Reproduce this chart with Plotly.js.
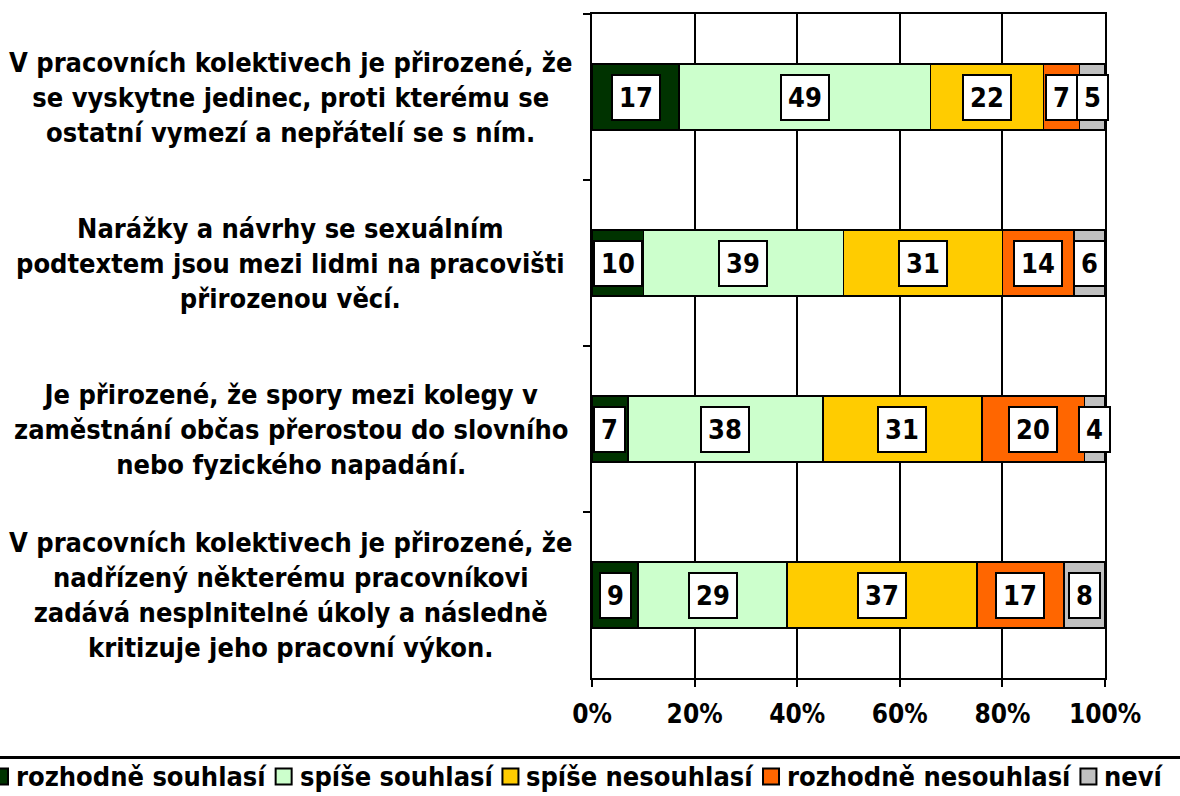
<!DOCTYPE html>
<html><head><meta charset="utf-8">
<script src="https://cdn.plot.ly/plotly-3.0.1.min.js"></script>
<style>html,body{margin:0;padding:0;background:#fff}</style>
</head><body><div id="chart" style="width:1180px;height:796px"></div>
<script>
const categories = [
  'V pracovních kolektivech je přirozené, že<br>se vyskytne jedinec, proti kterému se<br>ostatní vymezí a nepřátelí se s ním.',
  'Narážky a návrhy se sexuálním<br>podtextem jsou mezi lidmi na pracovišti<br>přirozenou věcí.',
  'Je přirozené, že spory mezi kolegy v<br>zaměstnání občas přerostou do slovního<br>nebo fyzického napadání.',
  'V pracovních kolektivech je přirozené, že<br>nadřízený některému pracovníkovi<br>zadává nesplnitelné úkoly a následně<br>kritizuje jeho pracovní výkon.'
];
const seriesNames = ['rozhodně souhlasí', 'spíše souhlasí', 'spíše nesouhlasí', 'rozhodně nesouhlasí', 'neví'];
const rozhodneSouhlasi = [17, 10, 7, 9];
const spiseSouhlasi = [49, 39, 38, 29];
const spiseNesouhlasi = [22, 31, 31, 37];
const rozhodneNesouhlasi = [7, 14, 20, 17];
const nevi = [5, 6, 4, 8];
const colors = ['#003300', '#CCFFCC', '#FFCC00', '#FF6600', '#C0C0C0'];

const FONT = "DejaVu Sans Condensed, DejaVu Sans, sans-serif";
const series = [rozhodneSouhlasi, spiseSouhlasi, spiseNesouhlasi, rozhodneNesouhlasi, nevi];

// figure geometry (px)
const W = 1180, H = 796;
const M = {l: 592, r: 75, t: 14, b: 118};
const PW = W - M.l - M.r, PH = H - M.t - M.b;
const px2paperX = px => (px - M.l) / PW;
const px2paperY = py => (H - M.b - py) / PH;

const traces = series.map((vals, i) => ({
  type: 'bar', orientation: 'h', name: seriesNames[i],
  x: vals, y: categories,
  marker: {color: colors[i], line: {color: '#000', width: 1.5}},
  hoverinfo: 'x+name', showlegend: false
}));

const annotations = [];
categories.forEach((cat, ci) => {
  let cum = 0;
  series.forEach(vals => {
    const v = vals[ci];
    annotations.push({
      x: cum + v / 2, y: cat, xref: 'x', yref: 'y', text: String(v), showarrow: false,
      font: {family: FONT, size: 27, weight: 'bold', color: '#000'},
      bgcolor: '#fff', bordercolor: '#000', borderwidth: 2, borderpad: 6
    });
    cum += v;
  });
  annotations.push({
    x: -0.587, xref: 'paper', y: cat, yref: 'y', text: cat, showarrow: false,
    xanchor: 'center', yanchor: 'middle', align: 'center',
    font: {family: FONT, size: 27, weight: 'bold', color: '#000'}
  });
});

// legend (drawn as shapes + text, laid out from measured text widths)
const shapes = [{
  type: 'line', xref: 'paper', yref: 'paper',
  x0: px2paperX(-20), x1: px2paperX(W + 20), y0: px2paperY(757.5), y1: px2paperY(757.5),
  line: {color: '#000', width: 3}
}];
const ctx = document.createElement('canvas').getContext('2d');
ctx.font = 'bold 27px "DejaVu Sans Condensed", "DejaVu Sans", sans-serif';
const legY = 776.5, box = 16;
let cx = -9;
seriesNames.forEach((name, i) => {
  shapes.push({
    type: 'rect', xref: 'paper', yref: 'paper',
    x0: px2paperX(cx + 1), x1: px2paperX(cx + 1 + box),
    y0: px2paperY(legY - box / 2), y1: px2paperY(legY + box / 2),
    fillcolor: colors[i], line: {color: '#000', width: 2}
  });
  const tx = cx + box + 2 + 6;
  annotations.push({
    x: px2paperX(tx), y: px2paperY(legY), xref: 'paper', yref: 'paper',
    xanchor: 'left', yanchor: 'middle', text: name, showarrow: false, borderpad: 0,
    font: {family: FONT, size: 27, weight: 'bold', color: '#000'}
  });
  cx = tx + ctx.measureText(name).width + 10;
});

const layout = {
  width: W, height: H,
  margin: {l: M.l, r: M.r, t: M.t, b: M.b, autoexpand: false},
  paper_bgcolor: '#fff', plot_bgcolor: '#fff',
  barmode: 'stack', bargap: 0.6,
  showlegend: false,
  xaxis: {
    range: [0, 100], dtick: 20, tick0: 0, ticksuffix: '%',
    showgrid: true, gridcolor: '#000', gridwidth: 2,
    showline: true, linecolor: '#000', linewidth: 2, mirror: true,
    ticks: 'outside', ticklen: 7, tickwidth: 2, tickcolor: '#000',
    ticklabelstandoff: 5,
    tickfont: {family: FONT, size: 26, weight: 'bold', color: '#000'},
    zeroline: false, fixedrange: true
  },
  yaxis: {
    type: 'category', autorange: 'reversed',
    showticklabels: false, showgrid: false,
    ticks: 'outside', tickson: 'boundaries', ticklen: 7, tickwidth: 2, tickcolor: '#000',
    showline: true, linecolor: '#000', linewidth: 2, mirror: true,
    fixedrange: true
  },
  shapes: shapes,
  annotations: annotations
};

Plotly.newPlot('chart', traces, layout, {displayModeBar: false, staticPlot: true});
</script>
</body></html>
